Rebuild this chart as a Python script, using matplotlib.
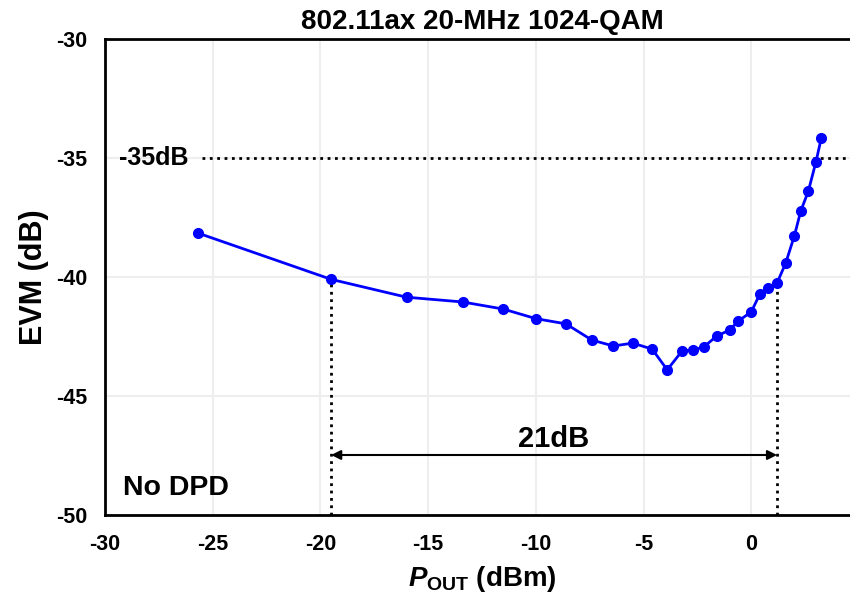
import matplotlib

matplotlib.use("Agg")
import matplotlib.pyplot as plt

plt.rcParams["font.family"] = ["Liberation Sans", "DejaVu Sans"]
plt.rcParams["font.weight"] = "bold"
plt.rcParams["axes.unicode_minus"] = False
plt.rcParams["mathtext.fontset"] = "custom"
plt.rcParams["mathtext.rm"] = "Liberation Sans:bold"
plt.rcParams["mathtext.it"] = "Liberation Sans:italic:bold"

# 测得数据：输出功率 (dBm) 与 EVM (dB)
pout = [-25.7, -19.5, -16.0, -13.4, -11.5, -10.0, -8.6, -7.4, -6.4, -5.5, -4.6,
        -3.9, -3.2, -2.7, -2.2, -1.6, -1.0, -0.6, 0.0, 0.4, 0.8, 1.2, 1.6, 2.0,
        2.3, 2.65, 3.0, 3.25]
evm = [-38.15, -40.1, -40.85, -41.05, -41.35, -41.75, -41.97, -42.65, -42.9, -42.78,
       -43.03, -43.9, -43.1, -43.07, -42.94, -42.48, -42.23, -41.85, -41.47, -40.72,
       -40.47, -40.25, -39.42, -38.28, -37.23, -36.4, -35.18, -34.18]
xticks = [-30, -25, -20, -15, -10, -5, 0]
yticks = [-50, -45, -40, -35, -30]
evm_target = -35
range_lo, range_hi = -19.5, 1.2

fig = plt.figure(figsize=(8.5, 5.95), dpi=100)
ax = fig.add_axes([0.1235, 0.1345, 0.887, 0.8])

ax.plot(pout, evm, color="#0000ff", linewidth=2, marker="o", markersize=7, zorder=3)

# 参考线：-35dB 水平线与动态范围两端竖线
ax.plot([-25.5, 5], [evm_target, evm_target], ":", color="black", linewidth=2)
ax.plot([range_lo, range_lo], [-50, evm[1]], ":", color="black", linewidth=2)
ax.plot([range_hi, range_hi], [-50, evm[21]], ":", color="black", linewidth=2)
ax.annotate("", xy=(range_lo, -47.48), xytext=(range_hi, -47.48),
            arrowprops=dict(arrowstyle="<|-|>", color="black", linewidth=1.5,
                            mutation_scale=14, shrinkA=0, shrinkB=0))

ax.text(-26.1, evm_target, "-35dB", ha="right", va="center", fontsize=18, fontweight="bold")
ax.text(-9.15, -46.8, "21dB", ha="center", va="center", fontsize=21, fontweight="bold")
ax.text(-29.15, -48.88, "No DPD", ha="left", va="center", fontsize=20.5, fontweight="bold")

ax.set_xlim(-30, 5)
ax.set_ylim(-50, -30)
ax.set_xticks(xticks)
ax.set_yticks(yticks)
ax.tick_params(length=0, labelsize=15.5)
ax.tick_params(axis="x", pad=14)
ax.tick_params(axis="y", pad=13)
for lab in ax.get_xticklabels() + ax.get_yticklabels():
    lab.set_fontweight("bold")
ax.grid(color="#eeeeee", linewidth=1.5)
ax.set_axisbelow(True)
for sp in ax.spines.values():
    sp.set_linewidth(2)
    sp.set_color("black")

ax.set_title("802.11ax 20-MHz 1024-QAM", fontsize=20, fontweight="bold", pad=7)
ax.set_xlabel(r"$P_{\mathrm{OUT}}$ (dBm)", fontsize=20, fontweight="bold", labelpad=6)
ax.set_ylabel("EVM (dB)", fontsize=22, fontweight="bold", labelpad=5)

fig.savefig("out.png")
plt.close(fig)
